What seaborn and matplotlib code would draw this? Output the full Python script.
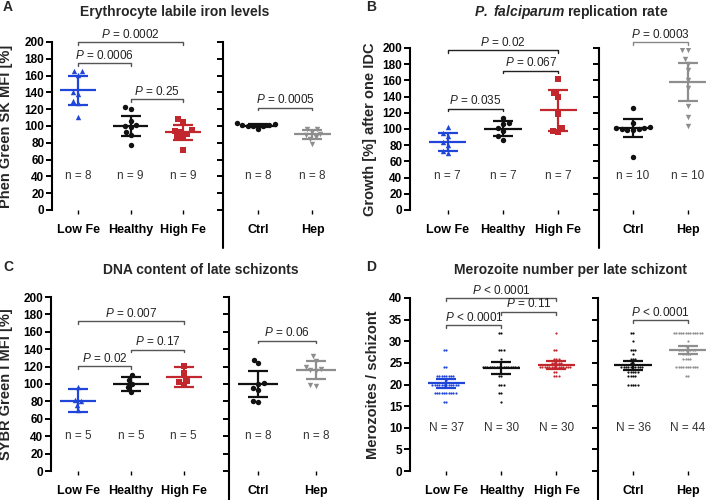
import numpy as np
import pandas as pd
import seaborn as sns
import matplotlib.pyplot as plt
from matplotlib.lines import Line2D

sns.set_style('ticks')
plt.rcParams['font.family'] = ['Liberation Sans', 'DejaVu Sans']
plt.rcParams['mathtext.fontset'] = 'custom'
plt.rcParams['mathtext.rm'] = 'Liberation Sans'
plt.rcParams['mathtext.it'] = 'Liberation Sans:italic'
plt.rcParams['mathtext.bf'] = 'Liberation Sans:bold'
plt.rcParams['mathtext.bfit'] = 'Liberation Sans:italic:bold'

diet = ['Low Fe', 'Healthy', 'High Fe']
treat = ['Ctrl', 'Hep']

# A - erythrocyte labile iron (Phen Green SK MFI, %)
a_low = [166, 165, 161, 141, 138, 130, 127, 111]
a_healthy = [123, 120, 106, 101, 100, 99, 93, 89, 77]
a_high = [108, 105, 95, 94, 93, 91, 88, 87, 71]
a_ctrl = [103, 102, 101, 101, 100, 100, 100, 97]
a_hep = [97, 96, 93, 91, 89, 87, 85, 79]
a_mean = [142.5, 100, 92.5, 100.5, 90]
a_sd = [17, 12, 8.8, 1.5, 5]

# B - replication rate (growth %, one IDC)
b_low = [103, 95, 91, 84, 80, 73, 70]
b_healthy = [114, 107, 106, 101, 97, 91, 87]
b_high = [162, 144, 140, 119, 101, 97, 96]
b_ctrl = [126, 108, 102, 101, 101, 100, 100, 99, 99, 66]
b_hep = [198, 197, 186, 180, 173, 160, 150, 128, 115, 104]
b_mean = [84, 100.5, 123, 101, 158]
b_sd = [11, 9, 25, 11, 24]

# C - DNA content (SYBR Green I MFI, %)
c_low = [97, 82, 80, 76, 70]
c_healthy = [110, 105, 100, 96, 91]
c_high = [121, 113, 104, 102, 99]
c_ctrl = [128, 124, 101, 100, 95, 93, 81, 79]
c_hep = [132, 127, 120, 117, 116, 115, 99, 98]
c_mean = [81, 100, 108, 100, 115.7]
c_sd = [13, 8, 11.5, 15, 10.3]

# D - merozoites per schizont (value, count)
d_low_vals, d_low_n = [16, 18, 20, 21, 22, 24, 28], [2, 10, 12, 1, 8, 2, 2]
d_healthy_vals, d_healthy_n = [16, 18, 20, 22, 24, 26, 28, 32], [1, 2, 3, 2, 16, 1, 3, 2]
d_high_vals, d_high_n = [22, 23, 24, 25, 26, 28, 32], [3, 2, 14, 5, 3, 2, 1]
d_ctrl_vals, d_ctrl_n = [20, 22, 23, 24, 25, 26, 27, 28, 30, 32], [5, 4, 5, 10, 2, 3, 1, 3, 1, 2]
d_hep_vals, d_hep_n = [22, 24, 26, 27, 28, 29, 30, 32], [2, 10, 4, 4, 8, 2, 1, 13]
d_mean = [20.3, 23.8, 24.5, 24.4, 28.0]
d_ci = [1.0, 1.4, 0.85, 1.0, 1.0]

n_a = ['n = 8', 'n = 9', 'n = 9', 'n = 8', 'n = 8']
n_b = ['n = 7', 'n = 7', 'n = 7', 'n = 10', 'n = 10']
n_c = ['n = 5', 'n = 5', 'n = 5', 'n = 8', 'n = 8']
n_d = ['N = 37', 'N = 30', 'N = 30', 'N = 36', 'N = 44']

blue = '#1f46d8'
red = '#c1272d'
black = '#111111'
grey = '#8e8e8e'
colors = [blue, black, red, black, grey]
markers = ['^', 'o', 's', 'o', 'v']

W, H = 718, 500
fig = plt.figure(figsize=(W / 100, H / 100), dpi=100)


def px_axes(x0, y0, x1, y1):
    return fig.add_axes([x0 / W, 1 - y1 / H, (x1 - x0) / W, (y1 - y0) / H])


def style_axis(ax, xlim, ylim, yticks, order, show_labels):
    ax.set_xlim(*xlim)
    ax.set_ylim(*ylim)
    ax.set_yticks(yticks)
    ax.set_xticks(range(len(order)))
    ax.set_xticklabels(order, fontsize=9, fontweight='bold')
    ax.set_xlabel('')
    ax.set_ylabel('')
    for s in ['top', 'right', 'bottom']:
        ax.spines[s].set_visible(False)
    ax.spines['left'].set_linewidth(1.5)
    ax.spines['left'].set_color('black')
    ax.tick_params(axis='y', direction='out', length=4, width=1.4, labelsize=8.5, pad=1.5,
                   labelleft=show_labels, colors='black')
    ax.tick_params(axis='x', direction='out', length=3, width=1, pad=7, colors='black')
    for lbl in ax.get_yticklabels():
        lbl.set_fontweight('bold')


def draw_group(ax, vals, i, order, color, marker, size, mean, err):
    df = pd.DataFrame({'group': order[i], 'value': vals})
    sns.swarmplot(data=df, x='group', y='value', order=order, color=color,
                  marker=marker, size=size, linewidth=0, ax=ax, zorder=2)
    ax.hlines(mean, i - 0.34, i + 0.34, color=color, lw=1.6, zorder=4)
    ax.errorbar(i, mean, yerr=err, fmt='none', ecolor=color, elinewidth=1.6,
                capsize=7, capthick=1.6, zorder=4)


def bracket(ax, i, j, y, text, color='#555555'):
    lo, hi = ax.get_ylim()
    d = (hi - lo) * 0.016
    ax.plot([i, i, j, j], [y - d, y, y, y - d], color=color, lw=1, clip_on=False)
    ax.text((i + j) / 2, y + d * 0.5, text, ha='center', va='bottom',
            fontsize=8.5, color='#222222', clip_on=False)


def panel(boxes, xlims, ylim, yticks, groups, means, errs, nlabels, ny, size, ylabel, ylab_x,
          brackets, ext_bottom):
    axl = px_axes(*boxes[0])
    axr = px_axes(*boxes[1])
    for k in range(5):
        ax, order, i = (axl, diet, k) if k < 3 else (axr, treat, k - 3)
        draw_group(ax, groups[k], i, order, colors[k], markers[k] if size > 3 else 'o',
                   size, means[k], errs[k])
        ax.text(i, ny, nlabels[k], ha='center', va='center', fontsize=8.5, color='#333333')
    style_axis(axl, xlims[0], ylim, yticks, diet, True)
    style_axis(axr, xlims[1], ylim, yticks, treat, False)
    axl.set_ylabel(ylabel, fontsize=10.5, fontweight='bold')
    axl.yaxis.set_label_coords(ylab_x, 0.5)
    for side, i, j, y, txt, col in brackets:
        bracket(axl if side == 'l' else axr, i, j, y, txt, col)
    # divider spine of the right sub-graph runs down to the panel bottom
    x0 = boxes[1][0] / W
    fig.add_artist(Line2D([x0, x0], [1 - boxes[1][3] / H, 1 - ext_bottom / H],
                          color='black', lw=1.5))
    return axl, axr


P = r'$\mathit{P}$'

panel([(52, 42, 209, 210), (223, 42, 345, 210)], [(-0.5, 2.5), (-0.65, 1.6)],
      (0, 200), range(0, 201, 20),
      [a_low, a_healthy, a_high, a_ctrl, a_hep], a_mean, a_sd, n_a, 40, 3.9,
      'Phen Green SK MFI [%]', -0.25,
      [('l', 0, 2, 200, P + ' = 0.0002', '#555555'),
       ('l', 0, 1, 175, P + ' = 0.0006', '#555555'),
       ('l', 1, 2, 132, P + ' = 0.25', '#555555'),
       ('r', 0, 1, 122, P + ' = 0.0005', '#555555')], 248)

panel([(410, 48, 586, 210), (599, 48, 718, 210)], [(-0.68, 2.5), (-0.62, 1.55)],
      (0, 200), range(0, 201, 20),
      [b_low, b_healthy, b_high, b_ctrl, b_hep], b_mean, b_sd, n_b, 42, 3.9,
      'Growth [%] after one IDC', -0.19,
      [('l', 0, 2, 197, P + ' = 0.02', '#222222'),
       ('l', 1, 2, 172, P + ' = 0.067', '#222222'),
       ('l', 0, 1, 125, P + ' = 0.035', '#222222'),
       ('r', 0, 1, 207, P + ' = 0.0003', '#888888')], 248)

panel([(51, 297, 210, 471), (229, 297, 345, 471)], [(-0.52, 2.5), (-0.5, 1.5)],
      (0, 200), range(0, 201, 20),
      [c_low, c_healthy, c_high, c_ctrl, c_hep], c_mean, c_sd, n_c, 40, 3.9,
      'SYBR Green I MFI [%]', -0.24,
      [('l', 0, 2, 172, P + ' = 0.007', '#555555'),
       ('l', 1, 2, 139.5, P + ' = 0.17', '#555555'),
       ('l', 0, 1, 120.5, P + ' = 0.02', '#555555'),
       ('r', 0, 1, 150, P + ' = 0.06', '#555555')], 500)

d_groups = [np.repeat(d_low_vals, d_low_n), np.repeat(d_healthy_vals, d_healthy_n),
            np.repeat(d_high_vals, d_high_n), np.repeat(d_ctrl_vals, d_ctrl_n),
            np.repeat(d_hep_vals, d_hep_n)]
panel([(410, 298, 584, 471), (598, 298, 718, 471)], [(-0.66, 2.5), (-0.64, 1.55)],
      (0, 40), range(0, 41, 5),
      d_groups, d_mean, d_ci, n_d, 10, 1.6,
      'Merozoites / schizont', -0.17,
      [('l', 0, 2, 40, P + ' < 0.0001', '#555555'),
       ('l', 1, 2, 36.8, P + ' = 0.11', '#555555'),
       ('l', 0, 1, 33.7, P + ' < 0.0001', '#555555'),
       ('r', 0, 1, 34.8, P + ' < 0.0001', '#555555')], 500)

# titles and panel letters
title_kw = dict(ha='center', va='center', fontsize=10, fontweight='bold')
fig.text(175 / W, 1 - 12 / H, 'Erythrocyte labile iron levels', **title_kw)
fig.text(571 / W, 1 - 12 / H, r'$\mathbfit{P.\ falciparum}$ replication rate', **title_kw)
fig.text(201 / W, 1 - 270 / H, 'DNA content of late schizonts', **title_kw)
fig.text(570 / W, 1 - 270 / H, 'Merozoite number per late schizont', **title_kw)
for letter, x, y in [('A', 3, 7), ('B', 366, 7), ('C', 3, 267), ('D', 366, 267)]:
    fig.text(x / W, 1 - y / H, letter, ha='left', va='center', fontsize=10, fontweight='bold')

fig.savefig('out.png', dpi=100)
